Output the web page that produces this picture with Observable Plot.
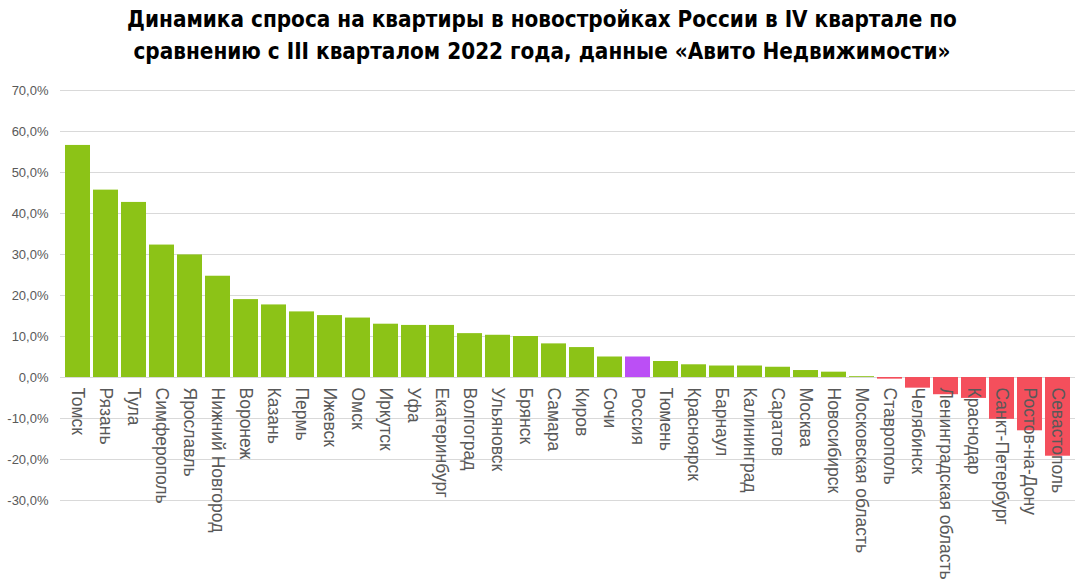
<!DOCTYPE html>
<html><head><meta charset="utf-8">
<script src="https://cdn.jsdelivr.net/npm/d3@7"></script>
<script src="https://cdn.jsdelivr.net/npm/@observablehq/plot@0.6"></script>
<style>
html,body{margin:0;padding:0;background:#fff;}
#title{width:1084px;text-align:center;font-family:"DejaVu Sans Condensed","Liberation Sans Narrow",sans-serif;font-weight:bold;font-size:22.3px;line-height:32px;color:#000;padding-top:3px;height:72px;box-sizing:border-box;}
</style></head><body>
<div id="title">Динамика спроса на квартиры в новостройках России в IV квартале по<br>сравнению с III кварталом 2022 года, данные «Авито Недвижимости»</div>
<div id="chart"></div>
<script>
const cities = ["Томск","Рязань","Тула","Симферополь","Ярославль","Нижний Новгород","Воронеж","Казань","Пермь","Ижевск","Омск","Иркутск","Уфа","Екатеринбург","Волгоград","Ульяновск","Брянск","Самара","Киров","Сочи","Россия","Тюмень","Красноярск","Барнаул","Калининград","Саратов","Москва","Новосибирск","Московская область","Ставрополь","Челябинск","Ленинградская область","Краснодар","Санкт-Петербург","Ростов-на-Дону","Севастополь"];
const values = [56.6,45.7,42.7,32.3,29.9,24.7,19.0,17.7,16.0,15.1,14.5,13.0,12.7,12.7,10.7,10.3,10.0,8.2,7.3,5.0,5.0,3.9,3.1,2.8,2.8,2.5,1.7,1.3,0.2,-0.4,-2.6,-4.2,-5.1,-10.2,-13.0,-19.2];
const yTicks = [-30,-20,-10,0,10,20,30,40,50,60,70];
const colors = {pos:"#8cc317", neg:"#f44f5c", total:"#bb4ff5"};

const data = cities.map((c,i)=>({city:c, value:values[i], kind: c==="Россия" ? "total" : (values[i] < 0 ? "neg" : "pos")}));
const fmt = d=>d.toFixed(1).replace(".",",")+"%";

const chart = Plot.plot({
  width:1084, height:512,
  marginLeft:60, marginRight:9, marginTop:18, marginBottom:84,
  style:{fontFamily:"'Liberation Sans',Arial,sans-serif", color:"#595959", background:"#fff"},
  x:{domain:cities, padding:0.1, axis:null},
  y:{domain:[-30,70], label:null},
  color:{domain:["pos","neg","total"], range:[colors.pos,colors.neg,colors.total]},
  marks:[
    Plot.gridY(yTicks,{stroke:"#d9d9d9", strokeOpacity:1}),
    Plot.axisY(yTicks,{tickSize:0, tickPadding:12, fontSize:13, tickFormat:fmt, label:null, fill:"#595959"}),
    Plot.barY(data,{x:"city", y:"value", fill:"kind"}),
    Plot.text(data,{x:"city", y:()=>0, text:"city", rotate:90, textAnchor:"start", lineAnchor:"middle", dy:10, fontSize:17.5, fill:"#595959"})
  ]
});
document.getElementById("chart").appendChild(chart);
</script>
</body></html>
